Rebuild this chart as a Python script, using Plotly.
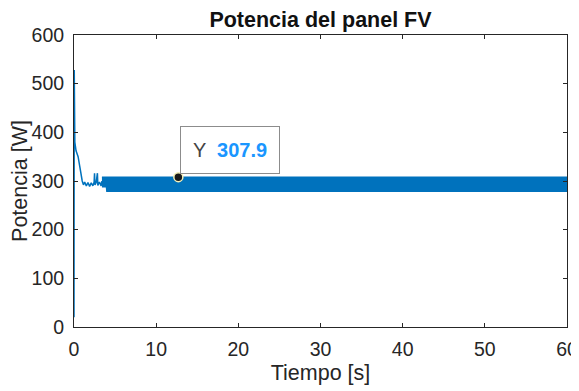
import plotly.graph_objects as go

# Transient part of the PV panel power (t in s, P in W)
t_transient = [0.0, 0.03, 0.06, 0.10, 0.25, 0.50, 0.70, 0.85, 1.00, 1.15, 1.30, 1.50, 1.70,
               1.90, 2.10, 2.30, 2.45, 2.50, 2.55, 2.70, 2.85, 2.90, 3.10, 3.30, 3.40]
p_transient = [20, 528, 210, 380, 362, 350, 330, 312, 300, 292, 298, 290, 297,
               289, 296, 290, 298, 316, 292, 297, 316, 291, 298, 290, 300]

# Envelope of the steady-state oscillation band
t_band = [3.40, 3.95, 4.00, 60.0]
p_band_upper = [307.9, 307.9, 307.9, 307.9]
p_band_lower = [288, 288, 279, 279]

# Data tip
tip_t = [12.7]
tip_p = [307.9]

x_ticks = [0, 10, 20, 30, 40, 50, 60]
y_ticks = [0, 100, 200, 300, 400, 500, 600]

blue = "#0072BD"
axc = "#262626"
font_family = "Liberation Sans, Arial, Helvetica, sans-serif"

# The page body has an 8px default margin, so the figure is 8px smaller
W, H = 571, 383

fig = go.Figure()
fig.add_trace(go.Scatter(x=t_band, y=p_band_lower, mode="lines",
                         line=dict(color=blue, width=1.5), hoverinfo="skip", showlegend=False))
fig.add_trace(go.Scatter(x=t_band, y=p_band_upper, mode="lines", fill="tonexty",
                         fillcolor=blue, line=dict(color=blue, width=1.5),
                         hoverinfo="skip", showlegend=False))
fig.add_trace(go.Scatter(x=t_transient, y=p_transient, mode="lines",
                         line=dict(color=blue, width=1.5), showlegend=False))
fig.add_trace(go.Scatter(x=tip_t, y=tip_p, mode="markers",
                         marker=dict(color="#1a1a1a", size=9,
                                     line=dict(color="#f4f0b8", width=1.5)),
                         showlegend=False))

fig.add_annotation(x=tip_t[0], y=tip_p[0], xref="x", yref="y",
                   text="Y  <b><span style='color:#1a96ff'>%.1f</span></b>" % tip_p[0],
                   showarrow=False, xanchor="left", yanchor="bottom",
                   xshift=2, yshift=3,
                   font=dict(family=font_family, size=20, color="#444444"),
                   bgcolor="rgba(255,255,255,0.97)", bordercolor="#8c8c8c",
                   borderwidth=1, borderpad=12)

fig.update_layout(
    width=W, height=H,
    margin=dict(l=66, r=12, t=27, b=64, autoexpand=False),
    paper_bgcolor="white", plot_bgcolor="white",
    font=dict(family=font_family, size=19.5, color=axc),
    title=dict(text="<b>Potencia del panel FV</b>", x=0.5, xref="paper",
               y=1 - 11 / H, yref="container", xanchor="center", yanchor="middle",
               font=dict(size=21.5, color="#111111")),
)
fig.update_xaxes(range=[0, 60], tickvals=x_ticks, ticktext=[str(v) for v in x_ticks],
                 ticks="inside", ticklen=4, tickcolor=axc, showline=True, linecolor=axc,
                 linewidth=1, mirror="ticks", showgrid=False, zeroline=False,
                 automargin=False, ticklabelstandoff=5,
                 title=dict(text="Tiempo [s]", standoff=5, font=dict(size=21.5)))
fig.update_yaxes(range=[0, 600], tickvals=y_ticks, ticktext=[str(v) for v in y_ticks],
                 ticks="inside", ticklen=4, tickcolor=axc, showline=True, linecolor=axc,
                 linewidth=1, mirror="ticks", showgrid=False, zeroline=False,
                 automargin=False, ticklabelstandoff=5,
                 title=dict(text="Potencia [W]", standoff=8, font=dict(size=21.5)))

fig.write_html("out.html")
